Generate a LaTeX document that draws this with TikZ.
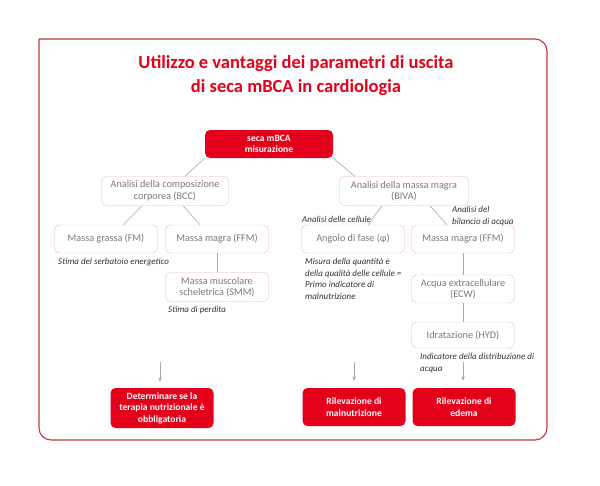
\documentclass[tikz,border=0pt]{standalone}
\usepackage{fontspec}
\setmainfont{Carlito}
\usetikzlibrary{arrows.meta}
\definecolor{secared}{HTML}{E2001A}
\definecolor{framered}{HTML}{C23440}
\definecolor{boxpink}{HTML}{EFB6BD}
\definecolor{boxgray}{HTML}{787878}
\definecolor{linegray}{HTML}{A6A6A6}
\begin{document}
\begin{tikzpicture}[x=1pt, y=-1pt,
        b/.style={draw=boxpink, rounded corners=5pt, align=center, font=\fontsize{10.2}{11.5}\selectfont, text=boxgray, minimum width=103pt, minimum height=28pt, inner sep=2pt},
        r/.style={fill=secared, rounded corners=5pt, align=center, font=\fontsize{9.6}{11.5}\selectfont\bfseries, text=white, minimum width=103pt, minimum height=38pt, inner sep=2pt},
        note/.style={anchor=west, align=left, font=\fontsize{9}{11.5}\selectfont\itshape, text=black!80, inner sep=0pt},
        ln/.style={draw=linegray, semithick},
        arr/.style={-{Stealth[length=1.6mm]}, draw=linegray, semithick}]
      \useasboundingbox (0,0) rectangle (600,485);
      % frame and title
      \draw[framered, line width=1.1pt, rounded corners=12pt] (39,39) -- (547,39) -- (547,440) -- (39,440) -- (39,39);
      \node[align=center, text=secared, font=\fontsize{18.5}{24}\selectfont\bfseries] (title) at (296,76) {Utilizzo e vantaggi dei parametri di uscita\\di seca mBCA in cardiologia};
      % tree
      \node[r, minimum width=128pt, minimum height=28pt] (root) at (269,144) {seca mBCA\\misurazione};
      \node[b, minimum width=127pt, minimum height=29pt] (bcc) at (165,191) {Analisi della composizione\\corporea (BCC)};
      \node[b, minimum width=129pt, minimum height=29pt] (biva) at (404,191) {Analisi della massa magra\\(BIVA)};
      \node[b] (fm) at (106,239) {Massa grassa (FM)};
      \node[b] (ffmL) at (217,239) {Massa magra (FFM)};
      \node[b, minimum height=29pt] (smm) at (217,287) {Massa muscolare\\scheletrica (SMM)};
      \node[b] (phase) at (353,239) {Angolo di fase (φ)};
      \node[b] (ffmR) at (463,239) {Massa magra (FFM)};
      \node[b] (ecw) at (463,289) {Acqua extracellulare\\(ECW)};
      \node[b, minimum height=26pt] (hyd) at (463,335) {Idratazione (HYD)};
      \draw[ln] (root.south west) -- ([xshift=20pt]bcc.north);
      \draw[ln] (root.south east) -- ([xshift=-49pt]biva.north);
      \draw[ln] ([xshift=-23pt]bcc.south) -- ([xshift=17pt]fm.north);
      \draw[ln] ([xshift=18pt]bcc.south) -- ([xshift=-17pt]ffmL.north);
      \draw[ln] (ffmL) -- (smm);
      \draw[ln] ([xshift=-22pt]biva.south) -- ([xshift=15pt]phase.north);
      \draw[ln] ([xshift=26pt]biva.south) -- ([xshift=-16pt]ffmR.north);
      \draw[ln] (ffmR) -- (ecw);
      \draw[ln] (ecw) -- (hyd);
      % notes
      \node[note] (n1) at (58,262) {Stima del serbatoio energetico};
      \node[note] (n2) at (168,310) {Stima di perdita};
      \node[note] (n3) at (302,219) {Analisi delle cellule};
      \node[note] (n4) at (452,216) {Analisi del\\bilancio di acqua};
      \node[note] (n5) at (305,279) {Misura della quantità e\\della qualità delle cellule =\\Primo indicatore di\\malnutrizione};
      \node[note] (n6) at (420,363) {Indicatore della distribuzione di\\acqua};
      % results
      \node[r, minimum height=40pt] (det) at (162,408) {Determinare se la\\terapia nutrizionale è\\obbligatoria};
      \node[r] (maln) at (354,407) {Rilevazione di\\malnutrizione};
      \node[r] (edema) at (464,407) {Rilevazione di\\edema};
      \coordinate (a1) at (160,362);
      \coordinate (a2) at (354,362);
      \coordinate (a3) at (463,362);
      \draw[arr, shorten >=6pt] (a1) -- (a1 |- det.north);
      \draw[arr, shorten >=7pt] (a2) -- (maln.north);
      \draw[arr, shorten >=7pt] (a3) -- (a3 |- edema.north);
\end{tikzpicture}
\end{document}
